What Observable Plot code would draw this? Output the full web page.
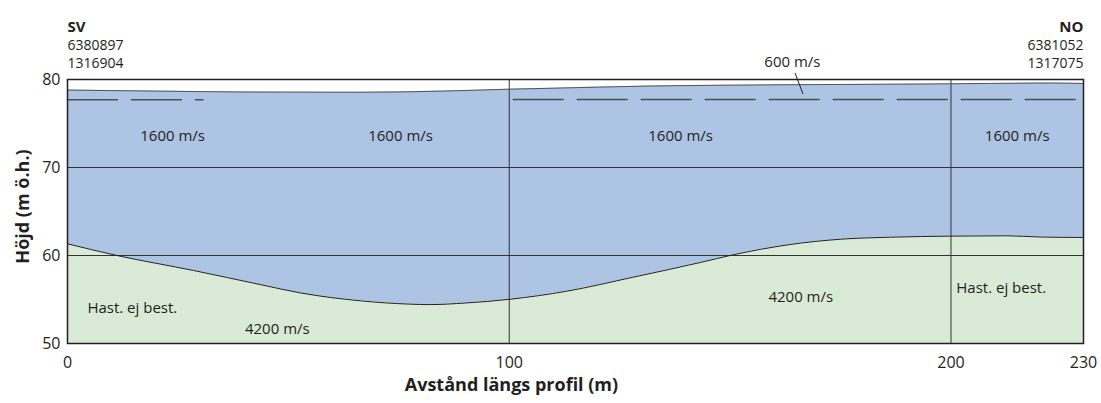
<!DOCTYPE html>
<html><head><meta charset="utf-8">
<script src="https://cdn.jsdelivr.net/npm/d3@7"></script>
<script src="https://cdn.jsdelivr.net/npm/@observablehq/plot@0.6"></script>
<style>
body{margin:0;background:#fff;font-family:"Open Sans",sans-serif;}
#chart svg{display:block;overflow:visible;}
</style>
</head><body><div id="chart"></div>
<script>
// Distance (m) and elevation (m ö.h.) of the refractor boundary (1600 / 4200 m/s)
const interfaceX = [0, 11.2, 28.5, 43.6, 52.7, 66.3, 77.6, 82.1, 90, 100.2, 113, 128, 143.2, 150.7, 163.6, 175, 186.3, 199.8, 212.7, 220.2, 230];
const interfaceY = [61.33, 60, 58.3, 56.7, 55.75, 54.85, 54.47, 54.42, 54.6, 55.03, 55.94, 57.53, 59.2, 60.08, 61.25, 61.85, 62.08, 62.2, 62.24, 62.1, 62.05];
// Ground surface
const surfaceX = [0, 20, 40, 66, 85, 100, 109, 132, 162, 195, 222.5, 230];
const surfaceY = [78.8, 78.68, 78.58, 78.55, 78.68, 78.9, 79.0, 79.26, 79.4, 79.49, 79.6, 79.55];
// Dashed boundary (600 / 1600 m/s), two segments
const dashSeg = ["a", "a", "b", "b"];
const dashX = [0, 30.7, 100.9, 230];
const dashY = [77.7, 77.7, 77.72, 77.72];
// Ticks
const xTicks = [0, 100, 200, 230];
const yTicks = [50, 60, 70, 80];
const xGrid = [100, 200];
const yGrid = [60, 70];
// Velocity labels
const labelText = ["1600 m/s", "1600 m/s", "1600 m/s", "1600 m/s", "4200 m/s", "4200 m/s", "600 m/s"];
const labelX = [23.8, 75.4, 138.8, 215, 47.5, 166, 164.1];
const labelY = [73.58, 73.58, 73.58, 73.58, 51.65, 55.3, 81.93];
const noteText = ["Hast. ej best.", "Hast. ej best."];
const noteX = [4.5, 201.2];
const noteY = [54.0, 56.3];
// Leader line for 600 m/s
const leaderX = [164.7, 166.5];
const leaderY = [80.74, 78.35];
// Header
const headerLeft = ["SV", "6380897", "1316904"];
const headerRight = ["NO", "6381052", "1317075"];

const iface = interfaceX.map((x, i) => ({x, y: interfaceY[i]}));
const surf = surfaceX.map((x, i) => ({x, y: surfaceY[i]}));
const dash = dashX.map((x, i) => ({x, y: dashY[i], z: dashSeg[i]}));
const labels = labelText.map((t, i) => ({t, x: labelX[i], y: labelY[i]}));
const notes = noteText.map((t, i) => ({t, x: noteX[i], y: noteY[i]}));
const leader = [{x1: leaderX[0], y1: leaderY[0], x2: leaderX[1], y2: leaderY[1]}];

const ink = "#231f20";
const chart = Plot.plot({
  width: 1101, height: 403,
  marginLeft: 67, marginRight: 18, marginTop: 79, marginBottom: 60,
  x: {domain: [0, 230]},
  y: {domain: [50, 80]},
  style: {fontFamily: "'Open Sans', sans-serif", fontSize: "15px", color: ink, background: "#fff", overflow: "visible"},
  marks: [
    Plot.areaY(surf, {x: "x", y1: 50, y2: "y", fill: "#aec4e4", curve: "monotone-x"}),
    Plot.areaY(iface, {x: "x", y1: 50, y2: "y", fill: "#d9ebd6", curve: "monotone-x"}),
    Plot.ruleY(yGrid, {stroke: "#333", strokeWidth: 1}),
    Plot.ruleX(xGrid, {stroke: "#333", strokeWidth: 1}),
    Plot.line(dash, {x: "x", y: "y", z: "z", stroke: "#4d4d4f", strokeWidth: 1.4, strokeDasharray: "50,14"}),
    Plot.line(surf, {x: "x", y: "y", stroke: "#555", strokeWidth: 1, curve: "monotone-x"}),
    Plot.line(iface, {x: "x", y: "y", stroke: ink, strokeWidth: 1, curve: "monotone-x"}),
    Plot.link(leader, {x1: "x1", y1: "y1", x2: "x2", y2: "y2", stroke: ink, strokeWidth: 1}),
    Plot.frame({stroke: ink, strokeWidth: 1.5}),
    Plot.axisX(xTicks, {tickSize: 0, tickPadding: 13, fontSize: 16, label: null}),
    Plot.axisY(yTicks, {tickSize: 0, tickPadding: 7, fontSize: 16, label: null}),
    Plot.text(labels, {x: "x", y: "y", text: "t", fontSize: 15, fill: ink}),
    Plot.text(notes, {x: "x", y: "y", text: "t", fontSize: 15, textAnchor: "start", fill: ink}),
    Plot.text(["Avstånd längs profil (m)"], {x: 100.5, frameAnchor: "bottom", dy: 47, fontSize: 18, fontWeight: "bold", fill: ink}),
    Plot.text(["Höjd (m ö.h.)"], {frameAnchor: "left", textAnchor: "middle", rotate: -90, dx: -44, dy: -5, fontSize: 18, fontWeight: "bold", fill: ink}),
    Plot.text([headerLeft[0]], {frameAnchor: "top-left", textAnchor: "start", dy: -58, fontSize: 15, fontWeight: "bold", fill: ink}),
    Plot.text([headerLeft[1]], {frameAnchor: "top-left", textAnchor: "start", dy: -39.5, fontSize: 14, fill: ink}),
    Plot.text([headerLeft[2]], {frameAnchor: "top-left", textAnchor: "start", dy: -21, fontSize: 14, fill: ink}),
    Plot.text([headerRight[0]], {frameAnchor: "top-right", textAnchor: "end", dy: -58, fontSize: 15, fontWeight: "bold", fill: ink}),
    Plot.text([headerRight[1]], {frameAnchor: "top-right", textAnchor: "end", dy: -39.5, fontSize: 14, fill: ink}),
    Plot.text([headerRight[2]], {frameAnchor: "top-right", textAnchor: "end", dy: -21, fontSize: 14, fill: ink})
  ]
});
document.getElementById("chart").append(chart);
</script>
</body></html>
